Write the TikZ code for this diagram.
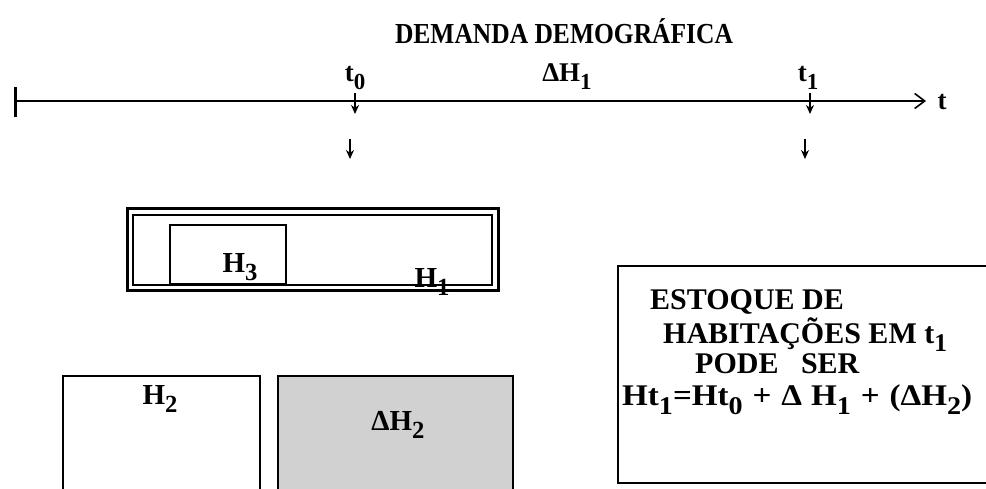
\documentclass[tikz,border=0pt]{standalone}
\usepackage{fontspec}
\usepackage{graphicx}
\setmainfont{Liberation Serif}
\usetikzlibrary{arrows.meta}
\newcommand{\lo}[1]{\raisebox{-0.3em}{\scalebox{0.85}{#1}}}
\newcommand{\fitw}[2]{\resizebox{#1}{\height}{#2}}
\tikzset{
  lbl/.style={font=\bfseries\fontsize{27}{28}\selectfont, inner sep=0pt},
  hlbl/.style={font=\bfseries\fontsize{29}{30}\selectfont, inner sep=0pt},
  boxtxt/.style={font=\bfseries\fontsize{30}{32}\selectfont, inner sep=0pt, anchor=base west},
  axis/.style={line width=2pt},
  downarr/.style={line width=1.5pt, -{Stealth[length=9pt,width=8pt]}},
  plainbox/.style={draw, line width=2pt},
}
\begin{document}
\begin{tikzpicture}[x=1pt,y=-1pt]
\useasboundingbox (0,0) rectangle (986,489);
\clip (0,0) rectangle (986,489);
\fill[white] (0,0) rectangle (986,489);
% title
\node[font=\bfseries\fontsize{29}{30}\selectfont, inner sep=0pt] (title) at (564,31) {\fitw{338pt}{DEMANDA DEMOGRÁFICA}};
% time axis
\coordinate (ax0) at (15,101);
\coordinate (ax1) at (926,101);
\coordinate (tk0) at (15,87);
\coordinate (tk1) at (15,117);
\draw[axis, -{Straight Barb[length=10pt,width=15pt,line width=1.6pt]}] (ax0) -- (ax1);
\draw[line width=3pt] (tk0) -- (tk1);
\node[lbl] (tlab) at (942,102) {t};
\node[lbl] (t0) at (355,78) {t\lo{0}};
\node[lbl] (dh1) at (567,77) {ΔH\lo{1}};
\node[lbl] (t1) at (808,78) {t\lo{1}};
% arrows at t0 and t1
\coordinate (a0s) at (355,93); \coordinate (a0e) at (355,114);
\coordinate (a1s) at (810,93); \coordinate (a1e) at (810,114);
\draw[downarr] (a0s) -- (a0e);
\draw[downarr] (a1s) -- (a1e);
\coordinate (b0s) at (350,139); \coordinate (b0e) at (350,159);
\coordinate (b1s) at (805,139); \coordinate (b1e) at (805,159);
\draw[downarr] (b0s) -- (b0e);
\draw[downarr] (b1s) -- (b1e);
% H1 double box
\draw[line width=3pt] (127,209) rectangle (498,291);
\draw[line width=1.4pt] (133,215) rectangle (492,285);
\node[hlbl] (h1) at (432,282) {H\lo{1}};
% H3 box
\draw[line width=1.8pt] (170,225) rectangle (286,284);
\node[hlbl] (h3) at (240,267) {H\lo{3}};
% H2 box
\draw[plainbox] (63,376) rectangle (260,500);
\node[hlbl] (h2) at (160,399) {H\lo{2}};
% Delta H2 box
\draw[plainbox, fill=black!18] (278,376) rectangle (513,500);
\node[hlbl] (dh2) at (398,425) {ΔH\lo{2}};
% right box
\draw[plainbox] (618,266) rectangle (1000,483);
\node[boxtxt] (l1) at (650,310) {ESTOQUE DE};
\node[boxtxt] (l2) at (663,343) {HABITAÇÕES EM t\lo{1}};
\node[boxtxt] (l3) at (695,373) {PODE\ \ \ SER};
\node[boxtxt] (l4) at (622,405) {\fitw{350pt}{Ht\lo{1}=Ht\lo{0}\hspace{9pt}+\hspace{9pt}Δ\hspace{8pt}H\lo{1}\hspace{9pt}+\hspace{9pt}(ΔH\lo{2})}};
\end{tikzpicture}
\end{document}
